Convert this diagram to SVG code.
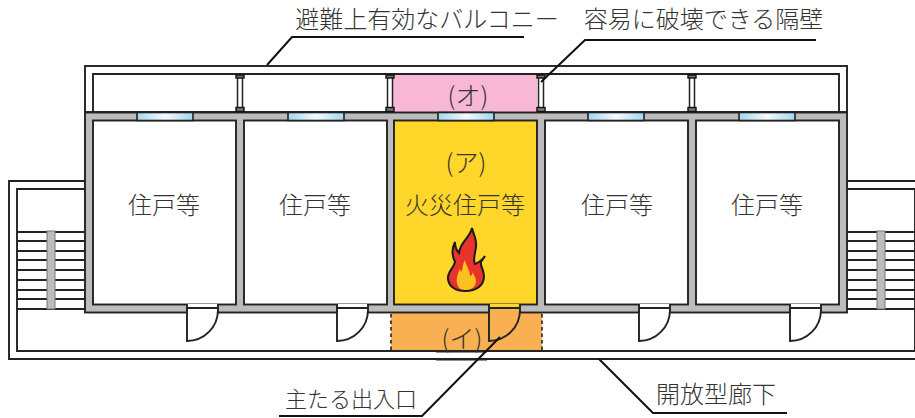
<svg xmlns="http://www.w3.org/2000/svg" width="915" height="418" viewBox="0 0 915 418">
<style>
.l{fill:none;stroke:#222;stroke-width:1.9}
.c{fill:none;stroke:#222;stroke-width:1.500}
.ld{fill:none;stroke:#111;stroke-width:2}
.w{fill:#bcbcbc;stroke:#222;stroke-width:1.9}
.room{fill:#fff;stroke:#222;stroke-width:1.9}
.win{fill:url(#g);stroke:#222;stroke-width:1.6}
.t{font-family:"Noto Sans CJK JP","Noto Sans",sans-serif;font-weight:300;font-size:24px;fill:#333;text-anchor:middle}
.cap{fill:#777;stroke:#111;stroke-width:1.4}
</style>
<defs>
<linearGradient id="g" x1="0" x2="1" y1="0" y2="0"><stop offset="0" stop-color="#a5d6ef"/><stop offset=".5" stop-color="#f4fbfe"/><stop offset="1" stop-color="#a5d6ef"/></linearGradient>
<g id="col"><path class="c" d="M-2.500 76V110M2.500 76V110"/><rect class="cap" x="-4" y="75" width="8" height="3"/><rect class="cap" x="-4" y="107.500" width="8" height="4"/></g>
<g id="stair"><path class="l" d="M0 232H68M0 241H68M0 251H68M0 260H68M0 270H68M0 280H68M0 290H68M0 299H68M0 309H68"/><rect x="30" y="231" width="8" height="78" fill="#bcbcbc" stroke="#777" stroke-width="1"/></g>
<path id="door" class="l" d="M0 0V31A31 31 0 0 0 31 0"/>
</defs>
<rect width="915" height="418" fill="#fff"/>
<g id="corridor">
<path class="l" d="M85 181H9V359H923V181H847"/>
<path class="l" d="M85 189H17V351H915V189H847"/>
</g>
<g id="stairs-left"><use href="#stair" x="17"/></g>
<g id="stairs-right"><use href="#stair" x="847"/></g>
<g id="balcony">
<rect class="l" x="85" y="66" width="762" height="46"/>
<path class="l" d="M93 112V74H839V112"/>
</g>
<g id="area-o"><rect x="393" y="74" width="144" height="38" fill="#f8b8d5"/><path class="l" d="M393 74H537"/></g>
<g id="area-i"><rect x="391" y="313" width="151" height="38" fill="#f8b052"/><path d="M391 314V351M542 314V351" fill="none" stroke="#222" stroke-width="1.6" stroke-dasharray="3.500 3"/><path class="l" d="M391 351H542"/><path d="M436 351.500H487M436 359.500H487" stroke="#222" stroke-width="2" fill="none"/></g>
<g id="walls"><rect class="w" x="85" y="112.500" width="762" height="200"/></g>
<g id="room1"><rect class="room" x="93" y="120.500" width="143" height="184"/></g>
<g id="room2"><rect class="room" x="244" y="120.500" width="143" height="184"/></g>
<g id="room3"><rect class="room" x="394" y="120.500" width="143" height="184" style="fill:#ffd629"/></g>
<g id="room4"><rect class="room" x="545" y="120.500" width="143" height="184"/></g>
<g id="room5"><rect class="room" x="696" y="120.500" width="143" height="184"/></g>
<g id="windows">
<rect class="win" x="137" y="112.500" width="56" height="8"/>
<rect class="win" x="288" y="112.500" width="56" height="8"/>
<rect class="win" x="438" y="112.500" width="56" height="8"/>
<rect class="win" x="588" y="112.500" width="56" height="8"/>
<rect class="win" x="739" y="112.500" width="56" height="8"/>
</g>
<g id="columns"><use href="#col" x="240"/><use href="#col" x="390"/><use href="#col" x="541"/><use href="#col" x="692"/></g>
<g id="doors">
<rect x="187" y="304" width="31" height="10" fill="#fff"/><path class="l" d="M187 304V313M218 304V313M187 308H218"/><use href="#door" x="187" y="310"/>
<rect x="337" y="304" width="31" height="10" fill="#fff"/><path class="l" d="M337 304V313M368 304V313M337 308H368"/><use href="#door" x="337" y="310"/>
<rect x="489" y="304" width="31" height="4" fill="#ffd629"/><rect x="489" y="308" width="31" height="6" fill="#f8b052"/><path class="l" d="M489 304V313M520 304V313M489 308H520"/><use href="#door" x="489" y="310"/>
<rect x="639" y="304" width="31" height="10" fill="#fff"/><path class="l" d="M639 304V313M670 304V313M639 308H670"/><use href="#door" x="639" y="310"/>
<rect x="790" y="304" width="31" height="10" fill="#fff"/><path class="l" d="M790 304V313M821 304V313M790 308H821"/><use href="#door" x="790" y="310"/>
</g>
<g id="flame">
<path d="M472 228C470 238 460 242 459 253C456 250 455 246 455 242C451 250 452 256 455 262C454 268 447 272 448 279C449 287 456 291 465 291C476 291 484 286 484 276C484 270 480 266 481 262C482 260 484 258 485 256C482 260 478 263 475 264C472 258 477 250 476 243C476 238 473 233 472 228Z" fill="#e8322c" stroke="#1a1a1a" stroke-width="2"/>
<path d="M465 260C462 265 463 270 461 272C460 270 460 269 460 268C458 274 456 278 457 283C458 288 461 290 466 290C472 290 476 286 476 281C476 278 474 276 473 272C472 275 471 276 470 276C470 270 466 266 465 260Z" fill="#fdc01f"/>
</g>
<g id="connectors">
<path class="ld" d="M267 65L292 37H524"/>
<path class="ld" d="M541 82L585 40H816"/>
<path class="ld" d="M279 416H422L500 337"/>
<path class="ld" d="M599 359L653 413H787"/>
</g>
<g id="labels">
<text class="t" x="427" y="28">避難上有効なバルコニー</text>
<text class="t" x="703.500" y="28">容易に破壊できる隔壁</text>
<text class="t" x="164" y="214">住戸等</text>
<text class="t" x="315" y="214">住戸等</text>
<text class="t" x="466" y="172" style="font-size:25px">(ア)</text>
<text class="t" x="465" y="214">火災住戸等</text>
<text class="t" x="617" y="214">住戸等</text>
<text class="t" x="767" y="214">住戸等</text>
<text class="t" x="468" y="105" style="font-size:25px">(オ)</text>
<text class="t" x="462" y="348" style="font-size:25px">(イ)</text>
<text class="t" x="351" y="407" style="font-size:22px">主たる出入口</text>
<text class="t" x="716" y="403">開放型廊下</text>
</g>
</svg>
